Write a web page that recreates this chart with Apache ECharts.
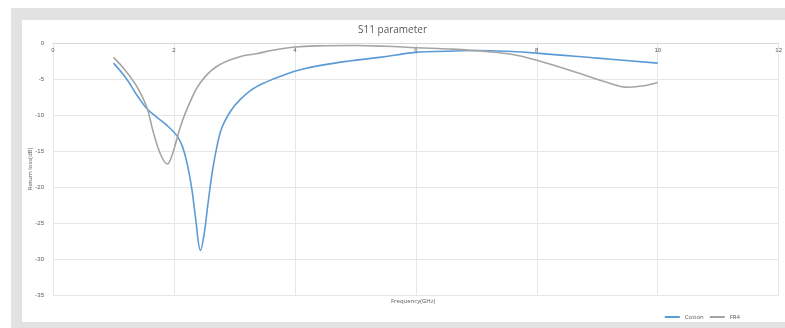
<!DOCTYPE html>
<html><head><meta charset="utf-8">
<script src="https://cdn.jsdelivr.net/npm/echarts@6/dist/echarts.min.js"></script>
<style>html,body{margin:0;padding:0;background:#fff}#c{width:785px;height:328px}</style>
</head><body><div id="c"></div>
<script>
const xTicks = [0, 2, 4, 6, 8, 10, 12];
const yTicks = [0, -5, -10, -15, -20, -25, -30, -35];
const cottonData = [[1.0,-2.8],[1.2,-4.8],[1.4,-7.4],[1.55,-9.1],[1.7,-10.2],[1.88,-11.4],[2.06,-13.0],[2.15,-14.6],[2.23,-17.2],[2.3,-20.5],[2.36,-24.5],[2.44,-28.8],[2.5,-26.5],[2.56,-22.5],[2.64,-17.6],[2.72,-14.0],[2.8,-11.6],[2.95,-9.3],[3.09,-7.9],[3.3,-6.4],[3.53,-5.4],[3.8,-4.5],[4.07,-3.75],[4.5,-3.0],[4.9,-2.5],[5.4,-2.0],[6.0,-1.3],[6.5,-1.15],[7.05,-1.05],[7.5,-1.15],[8.0,-1.4],[9.0,-2.1],[10.0,-2.8]];
const fr4Data = [[1.0,-2.0],[1.19,-3.75],[1.39,-6.1],[1.55,-8.9],[1.65,-12.1],[1.77,-15.3],[1.89,-16.8],[1.98,-15.3],[2.1,-11.8],[2.23,-8.9],[2.43,-5.6],[2.7,-3.3],[3.09,-1.9],[3.36,-1.5],[3.63,-1.0],[3.96,-0.6],[4.35,-0.4],[5.0,-0.35],[5.5,-0.45],[6.0,-0.65],[6.6,-0.85],[7.2,-1.2],[7.6,-1.6],[8.0,-2.4],[8.7,-4.2],[9.1,-5.3],[9.52,-6.15],[9.8,-5.9],[10.0,-5.5]];
const seriesNames = ['Cotton', 'FR4'];

const chart = echarts.init(document.getElementById('c'), null, {renderer: 'canvas'});
const txt = '#595959';
chart.setOption({
  animation: false,
  backgroundColor: '#fff',
  graphic: [
    {type: 'rect', z: -10, silent: true, shape: {x: 11, y: 8, width: 800, height: 340}, style: {fill: '#e2e2e2'}},
    {type: 'rect', z: -9, silent: true, shape: {x: 22, y: 20, width: 800, height: 302}, style: {fill: '#ffffff'}},
    {type: 'text', left: 416 - 25, top: 298, style: {text: 'Frequency(GHz)', fill: txt, font: '6px "Open Sans", sans-serif'}}
  ],
  title: {text: 'S11 parameter', left: 'center', top: 20, textStyle: {fontSize: 10, fontWeight: 'normal', color: txt, fontFamily: '"Open Sans", sans-serif'}},
  legend: {
    data: seriesNames, right: 40, top: 309, itemWidth: 15, itemHeight: 2, itemGap: 6, icon: 'rect',
    textStyle: {fontSize: 6, color: txt, fontFamily: '"Open Sans", sans-serif'}
  },
  grid: {left: 53, right: 5, top: 43, bottom: 33},
  xAxis: {
    type: 'value', min: 0, max: 12, interval: 2, position: 'top',
    axisLine: {show: true, lineStyle: {color: '#d9d9d9'}},
    axisTick: {show: false},
    axisLabel: {inside: true, fontSize: 6, color: txt, margin: 4, formatter: v => xTicks.includes(v) ? String(v) : ''},
    splitLine: {show: true, lineStyle: {color: '#e6e6e6'}}
  },
  yAxis: {
    type: 'value', min: -35, max: 0, interval: 5,
    name: 'Return loss(dB)', nameLocation: 'middle', nameGap: 20, nameMoveOverlap: false,
    nameTextStyle: {fontSize: 6, color: txt, fontFamily: '"Open Sans", sans-serif'},
    axisLine: {show: false}, axisTick: {show: false},
    axisLabel: {fontSize: 6, color: txt, margin: 9, formatter: v => yTicks.includes(v) ? String(v) : ''},
    splitLine: {show: true, lineStyle: {color: '#e6e6e6'}}
  },
  series: [
    {name: seriesNames[0], type: 'line', data: cottonData, smooth: 0.4, showSymbol: false, lineStyle: {color: '#5b9bd5', width: 1.6}, itemStyle: {color: '#5b9bd5'}},
    {name: seriesNames[1], type: 'line', data: fr4Data, smooth: 0.4, showSymbol: false, lineStyle: {color: '#a5a5a5', width: 1.6}, itemStyle: {color: '#a5a5a5'}}
  ]
});
</script></body></html>
